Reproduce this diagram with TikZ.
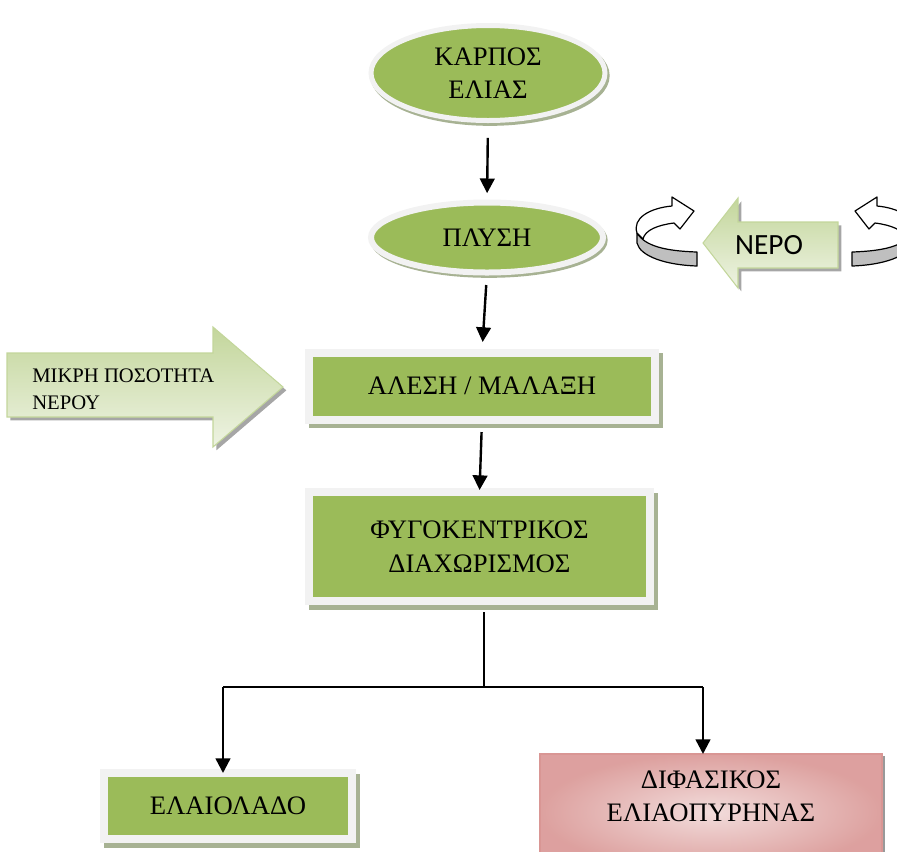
\documentclass[tikz,border=0pt]{standalone}
\usepackage{fontspec}
\setmainfont{Liberation Serif}
\newfontfamily\calibri{Carlito}
\usetikzlibrary{arrows.meta,shapes.geometric,shadows}
\definecolor{stepgreen}{HTML}{9BBB59}
\definecolor{framegray}{HTML}{F2F2F2}
\definecolor{shadowgreen}{HTML}{A7B293}
\definecolor{arrowgreen}{HTML}{C3D69B}
\definecolor{arrowlight}{HTML}{EEF3E3}
\definecolor{pinkdark}{HTML}{D99694}
\definecolor{pinklight}{HTML}{F2DCDB}
\tikzset{
  swirl/.pic={
    \draw[line width=0.9pt, fill=black!25, line join=round]
      (-60,-26) .. controls (-52,-13) and (-32,-8) .. (0,-7) -- (0,7)
      .. controls (-32,6) and (-57,-3) .. (-60,-16) -- cycle;
    \draw[line width=0.9pt, fill=white, line join=round]
      (-60,-26) .. controls (-65,-41) and (-47,-51) .. (-25,-53) -- (-25,-62)
      -- (-3,-48) -- (-17,-30) -- (-23,-36)
      .. controls (-39,-34) and (-52,-29) .. (-54,-20) -- cycle;
  }
}
\begin{document}
\begin{tikzpicture}[x=0.75pt, y=-0.75pt,
  big/.style={font=\fontsize{20}{25}\selectfont, align=center, text=black, outer sep=0pt},
  oval/.style={big, ellipse, inner sep=0pt, fill=stepgreen, draw=framegray,
    drop shadow={shadow xshift=1.5pt, shadow yshift=-2pt, fill=shadowgreen,
      draw=shadowgreen, line width=4pt, opacity=1}},
  stepbox/.style={big, rectangle, inner sep=0pt, fill=stepgreen, draw=framegray, line width=6pt,
    drop shadow={shadow xshift=3pt, shadow yshift=-3.5pt, fill=shadowgreen,
      draw=shadowgreen, line width=6pt, opacity=1}},
  pinkbox/.style={big, rectangle, inner sep=0pt, draw=pinkdark, line width=1.2pt,
    inner color=pinklight, outer color=pinkdark!90,
    drop shadow={shadow xshift=2.5pt, shadow yshift=-1.5pt, fill=black!40, opacity=1}},
  bigarrow/.style={draw=arrowgreen, line width=0.8pt, top color=arrowgreen, bottom color=arrowlight,
    drop shadow={shadow xshift=2.5pt, shadow yshift=-2.5pt, fill=black!35, opacity=1}},
  flow/.style={-{Triangle[width=11pt,length=11pt]}, line width=1.8pt},
  stem/.style={line width=1.2pt}
]
\useasboundingbox (0,0) rectangle (897,851);
\clip (0,0) rectangle (897,851);

\node[oval, minimum width=175.5pt, minimum height=71.25pt, line width=3.75pt] (karpos) at (488,73) {ΚΑΡΠΟΣ\\ΕΛΙΑΣ};
\node[oval, minimum width=174pt, minimum height=52.5pt, line width=4.5pt] (plysi) at (487,237.5) {ΠΛΥΣΗ};
\node[stepbox, minimum width=259.5pt, minimum height=50.25pt] (alesi) at (482,386) {ΑΛΕΣΗ / ΜΑΛΑΞΗ};
\node[stepbox, minimum width=255.75pt, minimum height=82.1pt] (fygo) at (479.5,546.75) {ΦΥΓΟΚΕΝΤΡΙΚΟΣ\\ΔΙΑΧΩΡΙΣΜΟΣ};
\node[stepbox, minimum width=186.4pt, minimum height=49.5pt] (elaio) at (228,806) {ΕΛΑΙΟΛΑΔΟ};
\node[pinkbox, minimum width=256.5pt, minimum height=87pt, text depth=24pt] (difasiko) at (711,812) {ΔΙΦΑΣΙΚΟΣ\\ΕΛΙΑΟΠΥΡΗΝΑΣ};

\path[bigarrow] (7,353) -- (213,353) -- (213,327) -- (283,387) -- (213,447) -- (213,417) -- (7,417) -- cycle;
\node[font=\fontsize{15.5}{20.25}\selectfont, align=left, anchor=west, inner sep=0pt] (mikri) at (32,389) {ΜΙΚΡΗ ΠΟΣΟΤΗΤΑ\\ΝΕΡΟΥ};
\path[bigarrow] (703,243) -- (738,198) -- (738,222) -- (838,222) -- (838,268) -- (738,268) -- (738,288) -- cycle;
\node[font=\calibri\fontsize{22}{26}\selectfont, inner sep=0pt] (nero) at (769,245) {ΝΕΡΟ};

\pic at (697,259) {swirl};
\pic[xscale=-1] at (852,259) {swirl};

\draw[flow, shorten <=13pt, shorten >=7pt] (karpos.south) -- (plysi.north);
\draw[flow, shorten <=9.4pt, shorten >=7.9pt] (plysi.south) -- (alesi.north);
\draw[flow, shorten <=9.4pt, shorten >=1.5pt] (alesi.south) -- (fygo.north);
\coordinate (split) at (484,687);
\coordinate (lturn) at (223,687);
\coordinate (rturn) at (703,687);
\draw[stem, shorten <=8pt] (split |- fygo.south) -- (split);
\draw[stem] (lturn) -- (rturn);
\draw[flow] (lturn) -- (lturn |- elaio.north);
\draw[flow] (rturn) -- (rturn |- difasiko.north);
\end{tikzpicture}
\end{document}
